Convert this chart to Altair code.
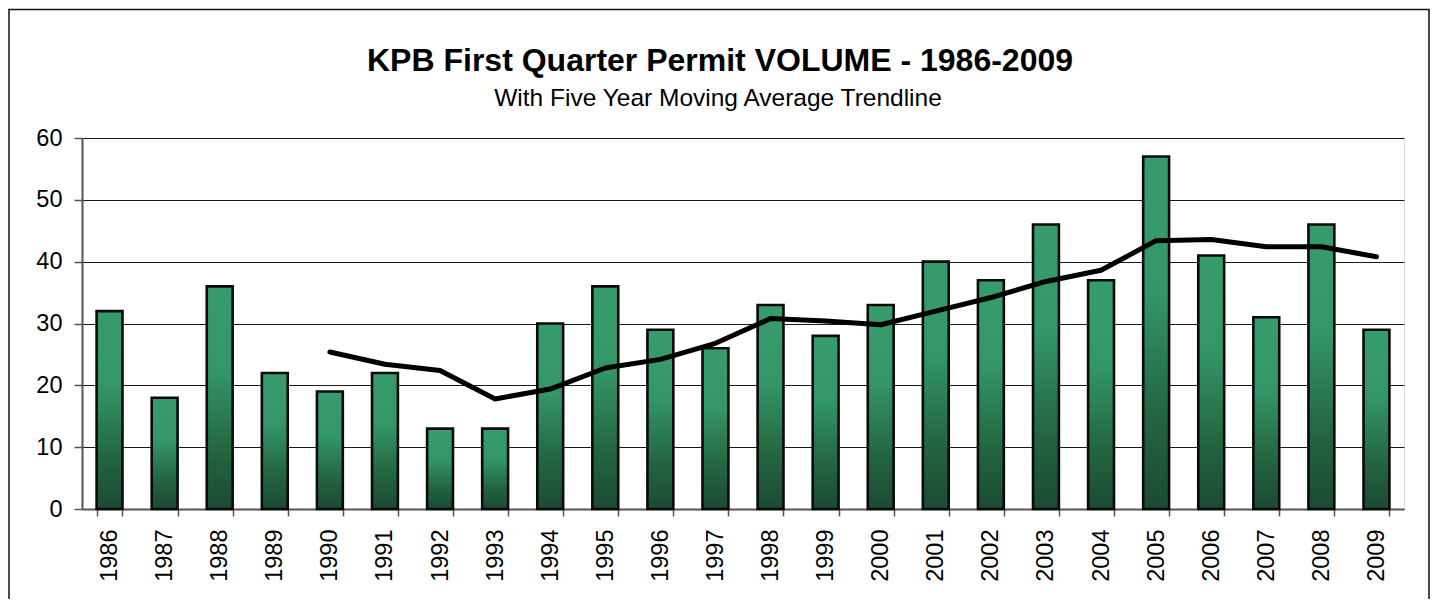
import altair as alt
import pandas as pd

years = ["1986", "1987", "1988", "1989", "1990", "1991", "1992", "1993",
         "1994", "1995", "1996", "1997", "1998", "1999", "2000", "2001",
         "2002", "2003", "2004", "2005", "2006", "2007", "2008", "2009"]
permits = [32, 18, 36, 22, 19, 22, 13, 13, 30, 36, 29, 26,
           33, 28, 33, 40, 37, 46, 37, 57, 41, 31, 46, 29]

avg_years = ["1990", "1991", "1992", "1993", "1994", "1995", "1996", "1997",
             "1998", "1999", "2000", "2001", "2002", "2003", "2004", "2005",
             "2006", "2007", "2008", "2009"]
avg_values = [25.4, 23.4, 22.4, 17.8, 19.4, 22.8, 24.2, 26.8, 30.8, 30.4,
              29.8, 32.0, 34.2, 36.8, 38.6, 43.4, 43.6, 42.4, 42.4, 40.8]

y_ticks = [0, 10, 20, 30, 40, 50, 60]

title_text = "KPB First Quarter Permit VOLUME - 1986-2009"
subtitle_text = "With Five Year Moving Average Trendline"

FONT = "Liberation Sans"

bars_df = pd.DataFrame({"year": years, "permits": permits})
avg_df = pd.DataFrame({"year": avg_years, "avg": avg_values})
one = pd.DataFrame({"k": [0]})

x_scale = alt.Scale(domain=years, paddingInner=0.53, paddingOuter=0.265)
y_scale = alt.Scale(domain=[0, 60], nice=False)

gradient = alt.Gradient(
    gradient="linear",
    stops=[
        alt.GradientStop(color="#379c6b", offset=0),
        alt.GradientStop(color="#339666", offset=0.38),
        alt.GradientStop(color="#23653f", offset=0.74),
        alt.GradientStop(color="#1b4a33", offset=1),
    ],
    x1=0, x2=0, y1=0, y2=1,
)

bars = alt.Chart(bars_df).mark_bar(
    color=gradient, stroke="#0a0a0a", strokeWidth=2.6
).encode(
    x=alt.X("year:N", scale=x_scale, sort=years,
            axis=alt.Axis(title=None, labelAngle=270, labelFontSize=23.5,
                          labelFont=FONT, labelColor="#000000",
                          labelPadding=13, tickSize=7, tickBand="extent",
                          tickColor="#555555", tickWidth=1.5,
                          domainColor="#555555", domainWidth=2, grid=False)),
    y=alt.Y("permits:Q", scale=y_scale,
            axis=alt.Axis(title=None, values=y_ticks, labelFontSize=23.5,
                          labelFont=FONT, labelColor="#000000",
                          labelPadding=12, tickSize=8, tickColor="#555555",
                          tickWidth=1.5, domainColor="#555555", domainWidth=2,
                          grid=True, gridColor="#1a1a1a", gridWidth=1.2)),
)

line = alt.Chart(avg_df).mark_line(
    color="#000000", strokeWidth=5, strokeJoin="round", strokeCap="round"
).encode(
    x=alt.X("year:N", scale=x_scale, sort=years),
    y=alt.Y("avg:Q", scale=y_scale),
)

title = alt.Chart(one).mark_text(
    text=title_text, font=FONT, fontSize=32, fontWeight="bold",
    align="center", baseline="alphabetic", color="#000000"
).encode(x=alt.value(638), y=alt.value(-67))

subtitle = alt.Chart(one).mark_text(
    text=subtitle_text, font=FONT, fontSize=24.5,
    align="center", baseline="alphabetic", color="#000000"
).encode(x=alt.value(636), y=alt.value(-32))

border = alt.Chart(one).mark_rect(
    fill=None, fillOpacity=0, stroke="#111111", strokeWidth=1.5
).encode(x=alt.value(-73), x2=alt.value(1347),
         y=alt.value(-128.5), y2=alt.value(480))

chart = alt.layer(border, bars, line, title, subtitle).properties(
    width=1322, height=371,
    autosize=alt.AutoSizeParams(type="none"),
    padding={"left": 74, "top": 130, "right": 27, "bottom": 90},
).configure_view(
    stroke="#888888", strokeWidth=2
).configure(background="#ffffff")

chart.save("out.html", embed_options={"renderer": "svg", "actions": False})
